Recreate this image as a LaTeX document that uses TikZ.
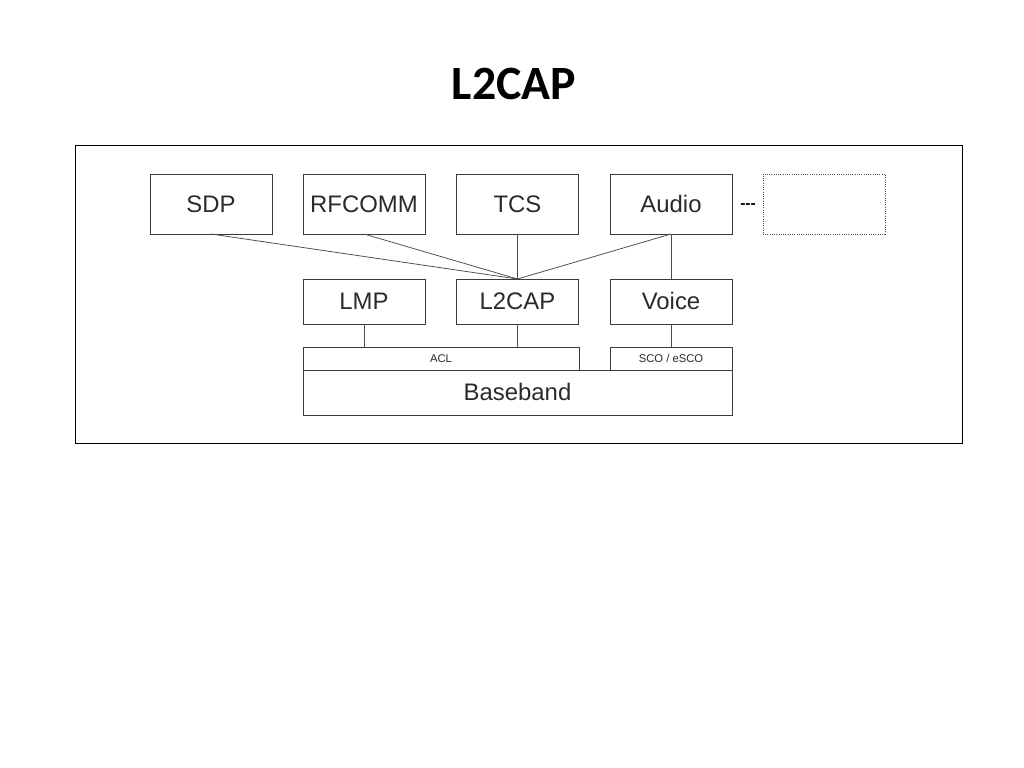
\documentclass[tikz,border=0pt]{standalone}
\usepackage{fontspec}
\setmainfont{Liberation Sans}
\newfontfamily\titlefont{Carlito}
\usetikzlibrary{positioning}

\definecolor{boxline}{HTML}{3A3A3A}
\definecolor{boxtext}{HTML}{2A2A2A}

\tikzset{
    layer/.style={draw=boxline, line width=0.6pt, inner sep=0pt, outer sep=0pt,
        minimum width=3.05cm, minimum height=1.5cm, text=boxtext,
        text height=12pt, text depth=0pt,
        font=\fontsize{17}{19}\selectfont},
    lowlayer/.style={layer, minimum height=1.125cm},
    bar/.style={draw=boxline, line width=0.6pt, inner sep=0pt, outer sep=0pt,
        minimum height=0.575cm, text=boxtext, text height=6pt, text depth=0pt,
        font=\fontsize{8}{9}\selectfont},
    link/.style={draw=boxline!90, line width=0.55pt}
}

\begin{document}
\begin{tikzpicture}[x=0.025cm, y=-0.025cm]
        \useasboundingbox (0,0) rectangle (1024,768);

        \node (title) at (514, 84) {\titlefont\bfseries\fontsize{34}{38}\selectfont L2CAP};
        \draw[draw=black, line width=0.6pt] (75,145) rectangle (962,443);

        % upper row
        \node[layer] (sdp)    at (211, 204) {SDP};
        \node[layer] (rfcomm) at (364, 204) {RFCOMM};
        \node[layer] (tcs)    at (517.5, 204) {TCS};
        \node[layer] (audio)  at (671, 204) {Audio};
        \node[layer, draw=boxline!90, densely dotted, line width=0.7pt] (other) at (824, 204) {};
        \node (dots) at (748, 206) {\bfseries\fontsize{11}{11}\selectfont -{}-{}-};

        % middle row
        \node[lowlayer] (lmp)   at (364, 301.5) {LMP};
        \node[lowlayer] (l2cap) at (517.5, 301.5) {L2CAP};
        \node[lowlayer] (voice) at (671, 301.5) {Voice};

        % baseband
        \node[bar, minimum width=6.9cm] (acl) at (441, 358.5) {ACL};
        \node[bar, minimum width=3.05cm] (sco) at (671, 358.5) {SCO / eSCO};
        \node[draw=boxline, line width=0.6pt, inner sep=0pt, outer sep=0pt,
              minimum width=10.725cm, minimum height=1.125cm, text=boxtext,
              text height=12pt, text depth=0pt,
              font=\fontsize{17}{19}\selectfont] (baseband) at (517.5, 392.5) {Baseband};

        \foreach \upper in {sdp, rfcomm, tcs, audio}
            \draw[link] (\upper.south) -- (l2cap.north);
        \draw[link] (audio.south) -- (voice.north);
        \draw[link] (lmp.south) -- (lmp.south |- acl.north);
        \draw[link] (l2cap.south) -- (l2cap.south |- acl.north);
        \draw[link] (voice.south) -- (sco.north);
    \end{tikzpicture}
\end{document}
